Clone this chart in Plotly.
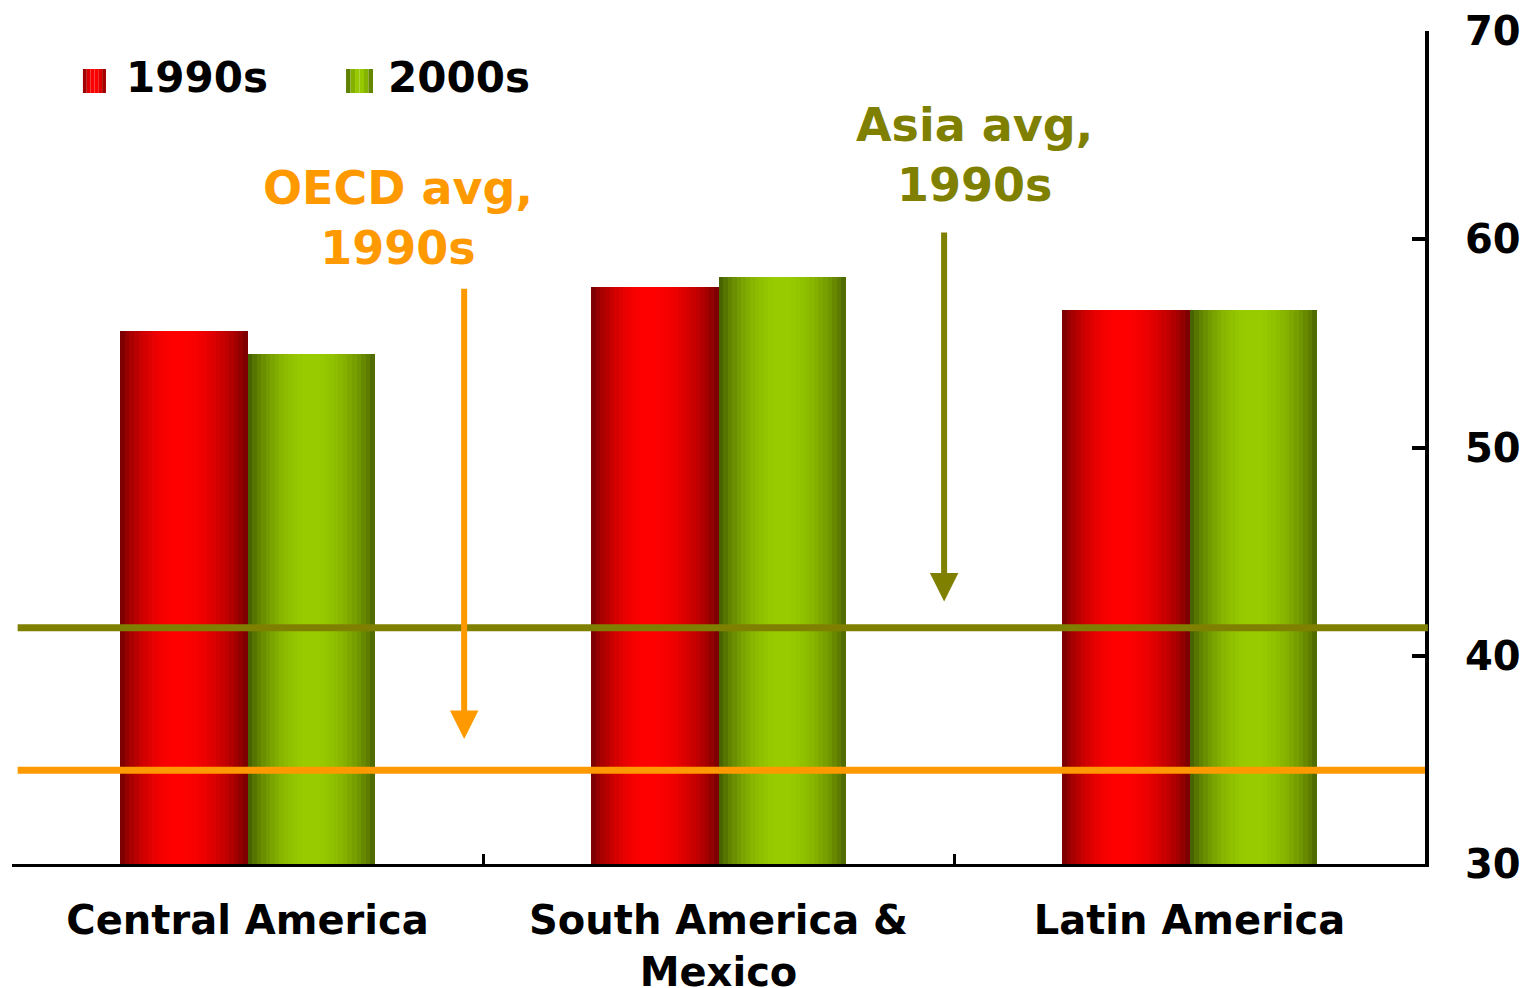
import math
import plotly.graph_objects as go

# ---- data ----
categories = ["Central America", "South America &<br>Mexico", "Latin America"]
series_names = ["1990s", "2000s"]
values_1990s = [55.6, 57.7, 56.6]
values_2000s = [54.5, 58.2, 56.6]
oecd_avg_1990s = 34.5
asia_avg_1990s = 41.35
y_ticks = [30, 40, 50, 60, 70]

# ---- styling helpers ----
FONT = "DejaVu Sans"
ORANGE = "#FF9900"
OLIVE = "#808000"
RED_EDGE_L, RED_EDGE_R, RED_MID = (108, 0, 0), (112, 0, 0), (255, 0, 0)
GRN_EDGE_L, GRN_EDGE_R, GRN_MID = (62, 86, 0), (72, 96, 0), (153, 204, 0)


def shade(t, left, right, mid, peak=0.5):
    # cylindrical shading: t in [0,1]
    if t <= peak:
        u = 0.5 * t / peak
    else:
        u = 0.5 + 0.5 * (t - peak) / (1 - peak)
    f = math.sin(math.pi * u) ** 0.75
    edge = left if t <= peak else right
    c = [round(edge[i] + (mid[i] - edge[i]) * f) for i in range(3)]
    return "rgb(%d,%d,%d)" % tuple(c)


fig = go.Figure()

N = 28
bar_w = 0.27
specs = [
    (values_1990s, -bar_w, RED_EDGE_L, RED_EDGE_R, RED_MID, 0.45),
    (values_2000s, 0.0, GRN_EDGE_L, GRN_EDGE_R, GRN_MID, 0.5),
]
for vals, start, el, er, mid, peak in specs:
    step = bar_w / N
    for k in range(N):
        t = (k + 0.5) / N
        fig.add_trace(go.Bar(
            x=categories, y=vals,
            offset=start + k * step,
            width=step * 1.6 if k < N - 1 else step,
            marker=dict(color=shade(t, el, er, mid, peak), line=dict(width=0)),
            showlegend=False, hoverinfo="skip",
        ))

# reference lines
fig.add_shape(type="line", xref="paper", yref="y", x0=0.004, x1=1.002,
              y0=asia_avg_1990s, y1=asia_avg_1990s, line=dict(color=OLIVE, width=7))
fig.add_shape(type="line", xref="paper", yref="y", x0=0.004, x1=1.0,
              y0=oecd_avg_1990s, y1=oecd_avg_1990s, line=dict(color=ORANGE, width=7))

# manual legend
legend_items = [(series_names[0], 0.0502, 0.0665, 0.079, RED_EDGE_L, RED_EDGE_R, RED_MID),
                (series_names[1], 0.2364, 0.2555, 0.2650, GRN_EDGE_L, GRN_EDGE_R, GRN_MID)]
for name, bx0, bx1, tx, el, er, mid in legend_items:
    M = 6
    for k in range(M):
        t = (k + 0.5) / M
        fig.add_shape(type="rect", xref="paper", yref="paper",
                      x0=bx0 + (bx1 - bx0) * k / M, x1=bx0 + (bx1 - bx0) * (k + 1) / M,
                      y0=0.9256, y1=0.9544, line=dict(width=0),
                      fillcolor=shade(t, el, er, mid))
    fig.add_annotation(text=name, xref="paper", yref="paper", x=tx, y=0.9445,
                       xanchor="left", yanchor="middle", showarrow=False,
                       font=dict(family=FONT, size=42, weight="bold", color="black"))

# text annotations
fig.add_annotation(text="OECD avg,<br>1990s", xref="paper", yref="paper",
                   x=0.2732, y=0.7755, showarrow=False, xanchor="center", yanchor="middle",
                   font=dict(family=FONT, size=46, weight="bold", color=ORANGE))
fig.add_annotation(text="Asia avg,<br>1990s", xref="paper", yref="paper",
                   x=0.6815, y=0.851, showarrow=False, xanchor="center", yanchor="middle",
                   font=dict(family=FONT, size=46, weight="bold", color=OLIVE))

# arrows
fig.add_annotation(text="", x=0.46, y=36.0, ax=0.46, ay=57.7, xref="x", yref="y",
                   axref="x", ayref="y", showarrow=True, arrowhead=2, arrowsize=0.95,
                   arrowwidth=6, arrowcolor=ORANGE, standoff=0)
fig.add_annotation(text="", x=1.479, y=42.6, ax=1.479, ay=60.4, xref="x", yref="y",
                   axref="x", ayref="y", showarrow=True, arrowhead=2, arrowsize=0.95,
                   arrowwidth=6, arrowcolor=OLIVE, standoff=0)

fig.update_layout(
    width=1532, height=988,
    margin=dict(l=12, r=107, t=31, b=124),
    paper_bgcolor="white", plot_bgcolor="white",
    barmode="overlay", bargap=0,
    showlegend=False,
    xaxis=dict(
        type="category", range=[-0.5, 2.5], automargin=False,
        showline=True, linecolor="black", linewidth=3,
        ticks="inside", tickson="boundaries", ticklen=10, tickwidth=3, tickcolor="black",
        showgrid=False, zeroline=False,
        tickfont=dict(family=FONT, size=40, weight="bold", color="black"),
        ticklabelstandoff=19,
    ),
    yaxis=dict(
        side="right", range=[30, 70], tickvals=y_ticks, automargin=False,
        showline=True, linecolor="black", linewidth=4,
        ticks="inside", ticklen=13, tickwidth=4, tickcolor="black",
        showgrid=False, zeroline=False,
        tickfont=dict(family=FONT, size=40, weight="bold", color="black"),
        ticklabelstandoff=28,
    ),
)

fig.write_html("out.html")
